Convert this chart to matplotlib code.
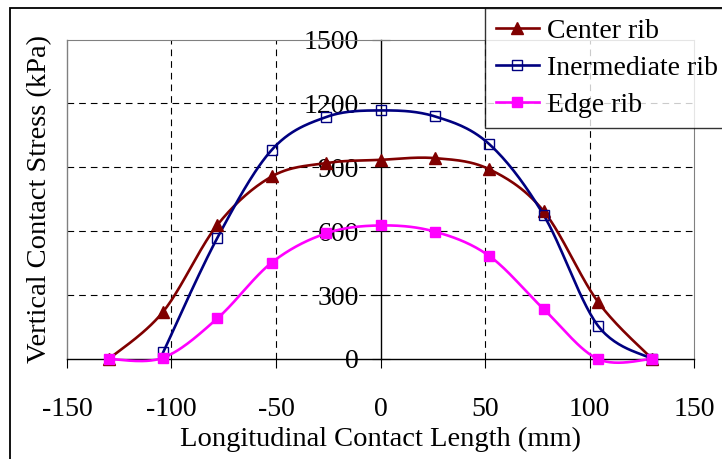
import numpy as np
import matplotlib
matplotlib.use('Agg')
import matplotlib.pyplot as plt
from matplotlib.patches import Rectangle

# ---- data ----
x_center = [-130, -104, -78, -52, -26, 0, 26, 52, 78, 104, 130]
center_rib = [0, 222, 630, 857, 920, 935, 943, 891, 695, 269, 0]
x_inter = [-104, -78, -52, -26, 0, 26, 52, 78, 104, 130]
inter_rib = [31, 570, 982, 1136, 1167, 1139, 1009, 677, 157, 0]
x_edge = [-130, -104, -78, -52, -26, 0, 26, 52, 78, 104, 130]
edge_rib = [0, 6, 191, 453, 590, 627, 598, 484, 235, 0, 0]

xticks = [-150, -100, -50, 0, 50, 100, 150]
yticks = [0, 300, 600, 900, 1200, 1500]
labels = ["Center rib", "Inermediate rib", "Edge rib"]

plt.rcParams['font.family'] = ['Liberation Serif', 'DejaVu Serif']
plt.rcParams['axes.unicode_minus'] = False
FS = 20
FL = 20.5


def smooth(x, y, n=30):
    P = np.column_stack([x, y]).astype(float)
    P = np.vstack([P[0], P, P[-1]])
    out = []
    t = np.linspace(0, 1, n)[:, None]
    for i in range(1, len(P) - 2):
        p0, p1, p2, p3 = P[i - 1], P[i], P[i + 1], P[i + 2]
        c1 = p1 + (p2 - p0) / 6
        c2 = p2 - (p3 - p1) / 6
        seg = (1 - t) ** 3 * p1 + 3 * (1 - t) ** 2 * t * c1 + 3 * (1 - t) * t ** 2 * c2 + t ** 3 * p2
        out.append(seg)
    return np.vstack(out)


W, H = 722, 459
fig = plt.figure(figsize=(W / 100, H / 100), dpi=100)
fig.patch.set_facecolor('white')
fig.patches.append(Rectangle((10 / W, -0.1), 1.2, 1 - 8 / H + 0.1, transform=fig.transFigure,
                             fill=False, edgecolor='black', linewidth=1.3))

ax = fig.add_axes([67 / W, 1 - 359 / H, (694 - 67) / W, (359 - 39.5) / H])
ax.set_xlim(-150, 150)
ax.set_ylim(0, 1500)

# grid (dashed), excluding frame/axis positions
gx = [v for v in xticks if v not in (xticks[0], xticks[-1], 0)]
gy = [v for v in yticks if v not in (yticks[0], yticks[-1])]
ax.vlines(gx, 0, 1500, colors='black', linestyles=(0, (6, 4.5)), linewidth=0.8, zorder=1)
ax.hlines(gy, -150, 150, colors='black', linestyles=(0, (6, 4.5)), linewidth=0.8, zorder=1)

# gray plot-area frame
ax.spines['top'].set_color('#808080')
ax.spines['right'].set_color('#808080')
ax.plot([0, 0], [0, 1], transform=ax.transAxes, color='#808080', lw=1.0, clip_on=False, zorder=1)
ax.spines['left'].set_position(('data', 0))
ax.spines['left'].set_color('black')
ax.spines['left'].set_linewidth(1.0)
ax.spines['bottom'].set_color('black')
ax.spines['bottom'].set_linewidth(1.0)

series = [
    (x_center, center_rib, '#800000', dict(marker='^', markersize=8, markerfacecolor='#800000', markeredgecolor='#800000')),
    (x_inter, inter_rib, '#000080', dict(marker='s', markersize=6.5, markerfacecolor='none', markeredgecolor='#000080', markeredgewidth=1.0)),
    (x_edge, edge_rib, '#FF00FF', dict(marker='s', markersize=7, markerfacecolor='#FF00FF', markeredgecolor='#FF00FF')),
]
handles = []
for (xs, ys, col, mk), lab in zip(series, labels):
    s = smooth(xs, ys)
    ax.plot(s[:, 0], s[:, 1], color=col, lw=1.9, clip_on=False, zorder=3)
    ax.plot(xs, ys, linestyle='none', clip_on=False, zorder=4, **mk)
    h, = ax.plot([], [], color=col, lw=1.9, **mk)
    handles.append(h)

ax.set_xticks(xticks)
ax.set_yticks(yticks)
ax.tick_params(axis='y', direction='inout', length=13, width=0.8, pad=9, labelsize=FS)
ax.tick_params(axis='x', direction='out', length=6.5, width=0.8, pad=20.5, labelsize=FS)
for lab in ax.get_yticklabels():
    lab.set_zorder(5)

ax.set_xlabel("Longitudinal Contact Length (mm)", fontsize=FL)
ax.xaxis.set_label_coords(0.5, -0.212)
ax.set_ylabel("Vertical Contact Stress (kPa)", fontsize=FL)
ax.yaxis.set_label_coords(-0.023, 0.5)

leg = fig.legend(handles, labels, loc='upper left', bbox_to_anchor=(485 / W, 1 - 7.5 / H),
                 fontsize=FS, frameon=True, fancybox=False, shadow=False,
                 handlelength=1.55, handletextpad=0.3, borderpad=0.38, labelspacing=0.42,
                 borderaxespad=0)
leg.get_frame().set_edgecolor('black')
leg.get_frame().set_linewidth(1.0)

fig.savefig('out.png', dpi=100)
